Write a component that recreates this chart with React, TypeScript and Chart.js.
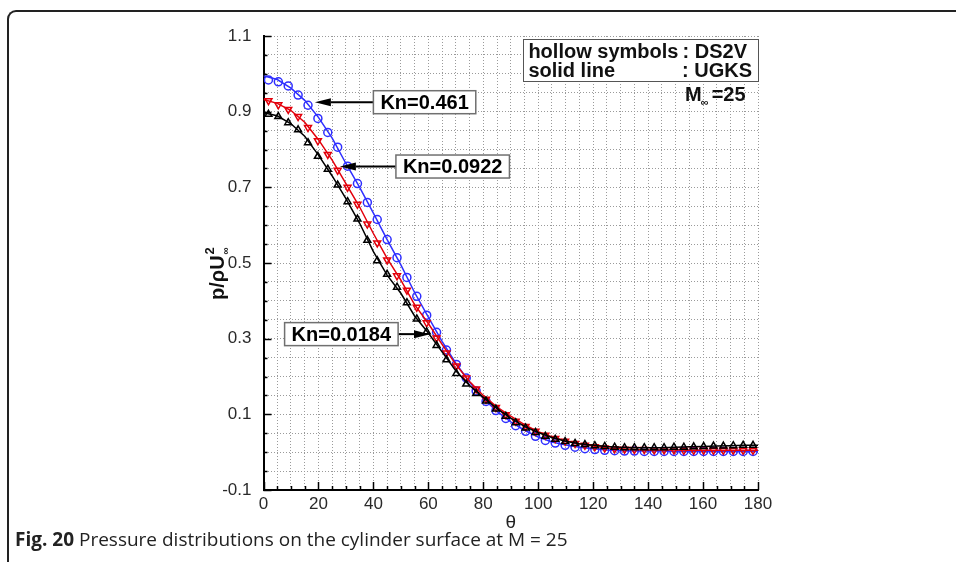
import React, { useEffect, useRef } from "react";
import { Chart, registerables } from "chart.js";

Chart.register(...registerables);

// UGKS solid lines
const thetaUGKS = [0, 5, 10, 15, 20, 25, 30, 35, 40, 45, 50, 55, 60, 65, 70, 75, 80, 85, 90, 95, 100, 105, 110, 115, 120, 125, 130, 135, 140, 145, 150, 155, 160, 165, 170, 175, 180];
const ugksKn0461 = [0.995, 0.985, 0.962, 0.93, 0.885, 0.83, 0.763, 0.7, 0.632, 0.562, 0.495, 0.422, 0.357, 0.293, 0.235, 0.185, 0.142, 0.108, 0.08, 0.058, 0.04, 0.027, 0.019, 0.013, 0.009, 0.006, 0.004, 0.003, 0.003, 0.003, 0.002, 0.002, 0.002, 0.002, 0.002, 0.002, 0.002];
const ugksKn00922 = [0.932, 0.922, 0.903, 0.872, 0.826, 0.772, 0.71, 0.648, 0.578, 0.512, 0.455, 0.39, 0.34, 0.285, 0.232, 0.187, 0.15, 0.119, 0.095, 0.073, 0.054, 0.04, 0.03, 0.022, 0.016, 0.011, 0.009, 0.007, 0.006, 0.006, 0.006, 0.005, 0.005, 0.005, 0.005, 0.005, 0.005];
const ugksKn00184 = [0.897, 0.889, 0.868, 0.835, 0.785, 0.73, 0.67, 0.605, 0.53, 0.468, 0.42, 0.36, 0.315, 0.265, 0.215, 0.176, 0.145, 0.115, 0.09, 0.068, 0.052, 0.039, 0.029, 0.022, 0.018, 0.015, 0.013, 0.012, 0.012, 0.012, 0.013, 0.014, 0.015, 0.016, 0.017, 0.018, 0.018];

// DS2V hollow symbols
const thetaDS2V = [1.8, 5.4, 9, 12.6, 16.2, 19.8, 23.4, 27, 30.6, 34.2, 37.8, 41.4, 45, 48.6, 52.2, 55.8, 59.4, 63, 66.6, 70.2, 73.8, 77.4, 81, 84.6, 88.2, 91.8, 95.4, 99, 102.6, 106.2, 109.8, 113.4, 117, 120.6, 124.2, 127.8, 131.4, 135, 138.6, 142.2, 145.8, 149.4, 153, 156.6, 160.2, 163.8, 167.4, 171, 174.6, 178.2];
const ds2vKn0461 = [0.984, 0.979, 0.968, 0.944, 0.917, 0.882, 0.845, 0.806, 0.756, 0.71, 0.66, 0.615, 0.562, 0.514, 0.462, 0.412, 0.362, 0.317, 0.27, 0.232, 0.196, 0.162, 0.134, 0.11, 0.089, 0.07, 0.055, 0.042, 0.031, 0.024, 0.018, 0.013, 0.009, 0.007, 0.005, 0.004, 0.003, 0.003, 0.002, 0.002, 0.002, 0.002, 0.002, 0.002, 0.002, 0.002, 0.002, 0.002, 0.002, 0.002];
const ds2vKn00922 = [0.929, 0.918, 0.906, 0.887, 0.858, 0.823, 0.787, 0.745, 0.7, 0.655, 0.603, 0.553, 0.508, 0.466, 0.428, 0.383, 0.342, 0.302, 0.262, 0.228, 0.196, 0.167, 0.14, 0.118, 0.099, 0.082, 0.068, 0.055, 0.045, 0.036, 0.029, 0.023, 0.018, 0.014, 0.011, 0.009, 0.008, 0.007, 0.007, 0.006, 0.006, 0.006, 0.005, 0.005, 0.005, 0.005, 0.005, 0.005, 0.005, 0.005];
const ds2vKn00184 = [0.893, 0.887, 0.871, 0.852, 0.818, 0.782, 0.748, 0.706, 0.662, 0.616, 0.56, 0.506, 0.47, 0.436, 0.395, 0.352, 0.318, 0.282, 0.244, 0.208, 0.18, 0.155, 0.135, 0.114, 0.095, 0.078, 0.064, 0.052, 0.042, 0.034, 0.028, 0.023, 0.02, 0.017, 0.015, 0.013, 0.012, 0.012, 0.012, 0.012, 0.012, 0.013, 0.013, 0.014, 0.015, 0.016, 0.016, 0.017, 0.018, 0.018];

const xMin = 0, xMax = 180, xStep = 5, xMajor = 20;
const yMin = -0.1, yMax = 1.1, yStep = 0.05;

const knLabels = ["Kn=0.461", "Kn=0.0922", "Kn=0.0184"];
const legendLines = ["hollow symbols", ": DS2V", "solid line", ": UGKS"];

const BLUE = "#2f2fff";
const RED = "#e3000b";
const BLACK = "#000000";
const FONT = "'Liberation Sans', Arial, sans-serif";

function lineSet(xs: number[], ys: number[], color: string) {
  return {
    data: xs.map((x, i) => ({ x, y: ys[i] })),
    showLine: true,
    borderColor: color,
    borderWidth: 1.5,
    pointRadius: 0,
    tension: 0,
  };
}
function markerSet(xs: number[], ys: number[], color: string, style: string, rot: number) {
  return {
    data: xs.map((x, i) => ({ x, y: ys[i] })),
    showLine: false,
    borderColor: color,
    backgroundColor: "rgba(0,0,0,0)",
    pointStyle: style,
    pointRotation: rot,
    pointRadius: 4,
    pointBorderWidth: 1.5,
  };
}

function arrow(ctx: CanvasRenderingContext2D, x1: number, y1: number, x2: number, y2: number) {
  const a = Math.atan2(y2 - y1, x2 - x1);
  const hl = 16, hw = 4;
  const c = Math.cos(a), s = Math.sin(a);
  ctx.beginPath();
  ctx.moveTo(x1, y1);
  ctx.lineTo(x2 - hl * c, y2 - hl * s);
  ctx.lineWidth = 2;
  ctx.strokeStyle = "#000";
  ctx.stroke();
  ctx.beginPath();
  ctx.moveTo(x2, y2);
  ctx.lineTo(x2 - hl * c + hw * s, y2 - hl * s - hw * c);
  ctx.lineTo(x2 - hl * c - hw * s, y2 - hl * s + hw * c);
  ctx.closePath();
  ctx.fillStyle = "#000";
  ctx.fill();
}

function labelBox(ctx: CanvasRenderingContext2D, text: string, x: number, cy: number, alignRight: boolean) {
  ctx.font = `bold 20px ${FONT}`;
  const w = ctx.measureText(text).width + 14;
  const h = 23;
  const left = alignRight ? x - w : x;
  ctx.fillStyle = "#fff";
  ctx.fillRect(left, cy - h / 2, w, h);
  ctx.strokeStyle = "#707070";
  ctx.lineWidth = 1.5;
  ctx.strokeRect(left, cy - h / 2, w, h);
  ctx.fillStyle = "#000";
  ctx.textAlign = "center";
  ctx.textBaseline = "middle";
  ctx.fillText(text, left + w / 2, cy + 1);
}

const decorPlugin = {
  id: "decor",
  afterDraw(chart: any) {
    const { ctx, chartArea: ca, scales } = chart;
    const x = scales.x, y = scales.y;
    ctx.save();
    // inward ticks
    ctx.strokeStyle = "#000";
    ctx.lineWidth = 1.5;
    for (let v = xMin; v <= xMax; v += xStep) {
      const px = Math.round(x.getPixelForValue(v)) + 0.5;
      const len = v % xMajor === 0 ? 8 : 4;
      ctx.beginPath();
      ctx.moveTo(px, ca.bottom);
      ctx.lineTo(px, ca.bottom - len);
      ctx.stroke();
    }
    const nY = Math.round((yMax - yMin) / yStep);
    for (let k = 0; k <= nY; k++) {
      const py = Math.round(y.getPixelForValue(yMin + k * yStep)) + 0.5;
      const len = k % 4 === 0 ? 8 : 4;
      ctx.beginPath();
      ctx.moveTo(ca.left, py);
      ctx.lineTo(ca.left + len, py);
      ctx.stroke();
    }

    // Kn annotations (anchored in data coordinates)
    const t1x = x.getPixelForValue(18.7), t1y = y.getPixelForValue(0.925);
    const b1x = x.getPixelForValue(40);
    arrow(ctx, b1x, t1y, t1x, t1y);
    labelBox(ctx, knLabels[0], b1x, t1y, false);

    const t2x = x.getPixelForValue(27.8), t2y = y.getPixelForValue(0.755);
    const b2x = x.getPixelForValue(48.2);
    arrow(ctx, b2x, t2y, t2x, t2y);
    labelBox(ctx, knLabels[1], b2x, t2y, false);

    const t3x = x.getPixelForValue(60.6), t3y = y.getPixelForValue(0.312);
    const b3x = x.getPixelForValue(49);
    arrow(ctx, b3x, t3y, t3x, t3y);
    labelBox(ctx, knLabels[2], b3x, t3y, true);

    // legend box
    const lx1 = x.getPixelForValue(94.6), lx2 = x.getPixelForValue(180);
    const ly1 = y.getPixelForValue(1.091), ly2 = y.getPixelForValue(0.979);
    ctx.fillStyle = "#fff";
    ctx.fillRect(lx1, ly1, lx2 - lx1, ly2 - ly1);
    ctx.strokeStyle = "#555";
    ctx.lineWidth = 1;
    ctx.strokeRect(Math.round(lx1) + 0.5, Math.round(ly1) + 0.5, Math.round(lx2 - lx1), Math.round(ly2 - ly1));
    ctx.fillStyle = "#111";
    ctx.font = `bold 20px ${FONT}`;
    ctx.textBaseline = "alphabetic";
    ctx.textAlign = "left";
    ctx.fillText(legendLines[0], lx1 + 5, ly1 + 19);
    ctx.fillText(legendLines[2], lx1 + 5, ly1 + 38);
    ctx.textAlign = "right";
    ctx.fillText(legendLines[1], lx2 - 11, ly1 + 19);
    ctx.fillText(legendLines[3], lx2 - 6, ly1 + 38);
    // M_inf = 25
    ctx.textAlign = "left";
    const mx = lx2 - 73, my = ly1 + 62;
    ctx.fillText("M", mx, my);
    const mw = ctx.measureText("M").width;
    ctx.font = `bold 11px ${FONT}`;
    ctx.fillText("\u221E", mx + mw - 1, my + 5);
    ctx.font = `bold 20px ${FONT}`;
    ctx.fillText("=25", mx + mw + 10, my);

    // y axis title p/ρU²∞
    ctx.save();
    ctx.translate(224, 300);
    ctx.rotate(-Math.PI / 2);
    ctx.fillStyle = "#111";
    ctx.font = `bold 20px ${FONT}`;
    ctx.textAlign = "left";
    ctx.textBaseline = "alphabetic";
    ctx.fillText("p/\u03C1U", 0, 0);
    const pw = ctx.measureText("p/\u03C1U").width;
    ctx.font = `bold 13px ${FONT}`;
    ctx.fillText("2", pw + 1, -10);
    ctx.font = `bold 10px ${FONT}`;
    ctx.fillText("\u221E", pw + 1, 5);
    ctx.restore();

    // x axis title θ
    ctx.fillStyle = "#222";
    ctx.font = `19px ${FONT}`;
    ctx.textAlign = "center";
    ctx.textBaseline = "middle";
    ctx.fillText("\u03B8", (ca.left + ca.right) / 2, 523);
    ctx.restore();
  },
};

export default function App() {
  const ref = useRef<HTMLCanvasElement | null>(null);
  useEffect(() => {
    if (!ref.current) return;
    const gridCommon = { color: "#9a9a9a", lineWidth: 1, drawTicks: false };
    const chart = new Chart(ref.current, {
      type: "scatter",
      data: {
        datasets: [
          lineSet(thetaUGKS, ugksKn00184, BLACK),
          markerSet(thetaDS2V, ds2vKn00184, BLACK, "triangle", 0),
          lineSet(thetaUGKS, ugksKn00922, RED),
          markerSet(thetaDS2V, ds2vKn00922, RED, "triangle", 180),
          lineSet(thetaUGKS, ugksKn0461, BLUE),
          markerSet(thetaDS2V, ds2vKn0461, BLUE, "circle", 0),
        ] as any,
      },
      options: {
        animation: false,
        responsive: false,
        layout: { padding: { left: 193.5, right: 198, top: 36, bottom: 32 } },
        plugins: { legend: { display: false }, tooltip: { enabled: false } },
        scales: {
          x: {
            type: "linear",
            min: xMin,
            max: xMax,
            afterFit: (s: any) => { s.height = 40; },
            ticks: {
              stepSize: xStep,
              autoSkip: false,
              maxRotation: 0,
              padding: 4,
              color: "#2a2a2a",
              font: { family: FONT, size: 17 },
              callback: (v: any) => (Math.round(v) % xMajor === 0 ? String(Math.round(v)) : ""),
            },
            grid: gridCommon,
            border: { display: true, color: "#000", width: 2, dash: [1, 2] },
          },
          y: {
            type: "linear",
            min: yMin,
            max: yMax,
            afterFit: (s: any) => { s.width = 70; },
            ticks: {
              stepSize: yStep,
              autoSkip: false,
              padding: 12,
              color: "#2a2a2a",
              font: { family: FONT, size: 17 },
              callback: (v: any) => {
                const k = Math.round((v - yMin) / yStep);
                return k % 4 === 0 ? (yMin + k * yStep).toFixed(1) : "";
              },
            },
            grid: gridCommon,
            border: { display: true, color: "#000", width: 2, dash: [1, 2] },
          },
        },
      } as any,
      plugins: [decorPlugin],
    });
    return () => chart.destroy();
  }, []);

  return (
    <div style={{ position: "absolute", left: 0, top: 0, width: 956, height: 562, overflow: "hidden", background: "#fff" }}>
      <div
        style={{
          position: "absolute",
          left: 7,
          top: 10,
          width: 980,
          height: 600,
          borderTop: "2px solid #222",
          borderLeft: "2px solid #222",
          borderTopLeftRadius: 9,
          boxSizing: "border-box",
        }}
      />
      <canvas ref={ref} width={956} height={562} style={{ position: "absolute", left: 0, top: 0, width: 956, height: 562 }} />
      <div
        style={{
          position: "absolute",
          left: 15,
          top: 528,
          fontFamily: "'Open Sans', sans-serif",
          fontSize: 19,
          lineHeight: "22px",
          color: "#222",
          whiteSpace: "nowrap",
        }}
      >
        <b>Fig. 20</b> Pressure distributions on the cylinder surface at M = 25
      </div>
    </div>
  );
}
